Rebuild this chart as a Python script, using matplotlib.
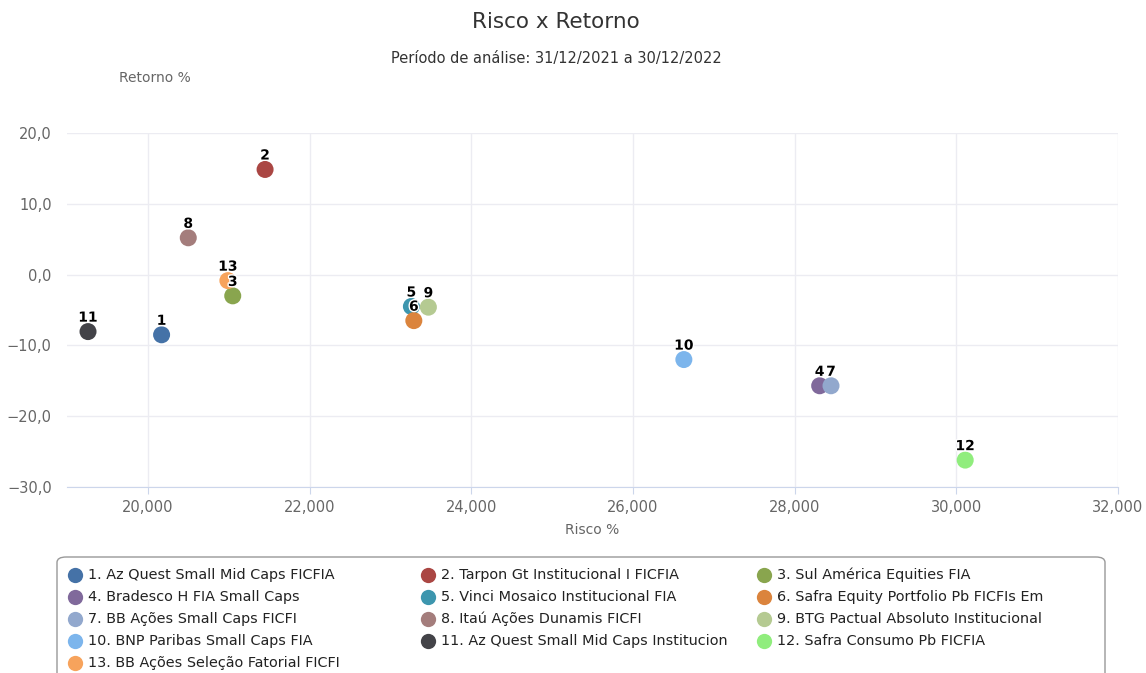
"""
Risco x Retorno scatter chart (fund risk vs return).
"""

import matplotlib.pyplot as plt
import matplotlib.patheffects as pe
from matplotlib.lines import Line2D
from matplotlib.patches import FancyBboxPatch

# Fund data
fund_ids = [1, 2, 3, 4, 5, 6, 7, 8, 9, 10, 11, 12, 13]
fund_names = [
    "Az Quest Small Mid Caps FICFIA",
    "Tarpon Gt Institucional I FICFIA",
    "Sul América Equities FIA",
    "Bradesco H FIA Small Caps",
    "Vinci Mosaico Institucional FIA",
    "Safra Equity Portfolio Pb FICFIs Em",
    "BB Ações Small Caps FICFI",
    "Itaú Ações Dunamis FICFI",
    "BTG Pactual Absoluto Institucional",
    "BNP Paribas Small Caps FIA",
    "Az Quest Small Mid Caps Institucion",
    "Safra Consumo Pb FICFIA",
    "BB Ações Seleção Fatorial FICFI",
]
risco = [20.17, 21.45, 21.05, 28.31, 23.26, 23.29, 28.45, 20.50, 23.47, 26.63, 19.26, 30.11, 20.99]
retorno = [-8.5, 14.85, -3.0, -15.7, -4.5, -6.5, -15.7, 5.2, -4.6, -12.0, -8.05, -26.2, -0.85]
colors = [
    "#4572A7", "#AA4643", "#89A54E", "#80699B", "#3D96AE", "#DB843D", "#92A8CD",
    "#A47D7C", "#B5CA92", "#7CB5EC", "#434348", "#90ED7D", "#F7A35C",
]

x_ticks = [20, 22, 24, 26, 28, 30, 32]
y_ticks = [-30, -20, -10, 0, 10, 20]

W, H = 1146, 673
fig = plt.figure(figsize=(W / 100, H / 100), dpi=100)
ax = fig.add_axes([67 / W, 1 - 487 / H, (1118 - 67) / W, (487 - 133) / H])

ax.scatter(risco, retorno, s=150, c=colors, zorder=3, linewidths=0)
for fid, x, y in zip(fund_ids, risco, retorno):
    ax.annotate(
        str(fid), (x, y), xytext=(0, 5), textcoords="offset points",
        ha="center", va="bottom", fontsize=10, fontweight="bold", color="black",
        zorder=4, path_effects=[pe.withStroke(linewidth=2, foreground="white")],
    )

ax.set_xlim(19, 32)
ax.set_ylim(-30, 20)
ax.set_xticks(x_ticks)
ax.set_xticklabels([f"{t},000" for t in x_ticks])
ax.set_yticks(y_ticks)
ax.set_yticklabels([f"{t:.1f}".replace(".", ",").replace("-", "\u2212") for t in y_ticks])
ax.grid(True, color="#ececf2", linewidth=1)
ax.set_axisbelow(True)
for side in ["top", "right", "left"]:
    ax.spines[side].set_visible(False)
ax.spines["bottom"].set_color("#ccd6eb")
ax.tick_params(axis="x", colors="#ccd6eb", length=5, labelcolor="#666666", labelsize=10.5, pad=4)
ax.tick_params(axis="y", length=0, labelcolor="#666666", labelsize=10.5, pad=11)
ax.set_xlabel("Risco %", fontsize=10, color="#666666", labelpad=6)

fig.text(556 / W, 1 - 22 / H, "Risco x Retorno", ha="center", va="center",
         fontsize=15.5, color="#333333")
fig.text(556 / W, 1 - 59 / H, "Período de análise: 31/12/2021 a 30/12/2022",
         ha="center", va="center", fontsize=10.5, color="#333333")
fig.text(155 / W, 1 - 78 / H, "Retorno %", ha="center", va="center",
         fontsize=10, color="#666666")

# Legend box, filled row by row in three columns
box = FancyBboxPatch((57 / W, -0.05), (1105 - 57) / W, (0.05 + 1 - 557 / H),
                     boxstyle="round,pad=0,rounding_size=0.008",
                     transform=fig.transFigure, facecolor="white",
                     edgecolor="#999999", linewidth=1)
fig.add_artist(box)
col_x = [75, 428, 764]
for i, (fid, name, col) in enumerate(zip(fund_ids, fund_names, colors)):
    cx = col_x[i % 3]
    cy = 575 + 22 * (i // 3)
    fig.add_artist(Line2D([cx / W], [1 - cy / H], marker="o", markersize=11,
                          color=col, markeredgewidth=0, transform=fig.transFigure))
    fig.text((cx + 13) / W, 1 - cy / H, f"{fid}. {name}", ha="left", va="center",
             fontsize=10.4, color="#222222")

fig.savefig("out.png", dpi=100)
